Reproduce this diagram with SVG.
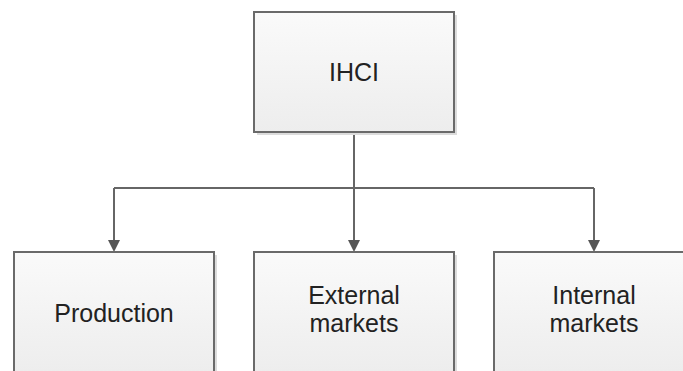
<svg xmlns="http://www.w3.org/2000/svg" width="683" height="371" viewBox="0 0 683 371">
<style>
.box{fill:url(#g);stroke:#6a6a6a;stroke-width:2}
.sh{fill:#dcdcdc}
.t{font-family:"Liberation Sans",Arial,sans-serif;font-size:25px;fill:#222;text-anchor:middle}
.c{fill:none;stroke:#666;stroke-width:2}
</style>
<defs>
<linearGradient id="g" x1="0" y1="0" x2="0" y2="1">
<stop offset="0" stop-color="#fafafa"/>
<stop offset="1" stop-color="#ededed"/>
</linearGradient>
<marker id="a" markerWidth="12" markerHeight="12" refX="6" refY="12" orient="auto" markerUnits="userSpaceOnUse" viewBox="0 0 12 12">
<path d="M0,0 L12,0 L6,12 Z" fill="#555" transform="rotate(-90 6 6)"/>
</marker>
</defs>
<rect width="683" height="371" fill="#ffffff"/>
<g id="connectors">
<path class="c" d="M354,132 V188"/>
<path class="c" d="M114,188 H594"/>
<path class="c" d="M114,188 V241"/>
<path class="c" d="M354,188 V241"/>
<path class="c" d="M594,188 V241"/>
<path d="M108,240 L120,240 L114,252 Z" fill="#555"/>
<path d="M348,240 L360,240 L354,252 Z" fill="#555"/>
<path d="M588,240 L600,240 L594,252 Z" fill="#555"/>
</g>
<g id="ihci">
<rect class="sh" x="257" y="15" width="200" height="120"/>
<rect class="box" x="254" y="12" width="200" height="120"/>
<text class="t" x="354" y="81">IHCI</text>
</g>
<g id="production">
<rect class="sh" x="17" y="255" width="200" height="120"/>
<rect class="box" x="14" y="252" width="200" height="120"/>
<text class="t" x="114" y="322">Production</text>
</g>
<g id="external">
<rect class="sh" x="257" y="255" width="200" height="120"/>
<rect class="box" x="254" y="252" width="200" height="120"/>
<text class="t" x="354" y="304">External</text>
<text class="t" x="354" y="332">markets</text>
</g>
<g id="internal">
<rect class="sh" x="497" y="255" width="200" height="120"/>
<rect class="box" x="494" y="252" width="200" height="120"/>
<text class="t" x="594" y="304">Internal</text>
<text class="t" x="594" y="332">markets</text>
</g>
</svg>
